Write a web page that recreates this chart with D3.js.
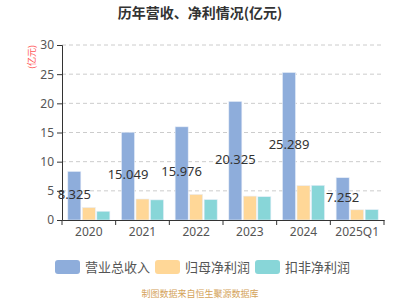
<!DOCTYPE html>
<html>
<head>
<meta charset="utf-8">
<script src="https://cdn.jsdelivr.net/npm/d3@7"></script>
<style>
  body { margin: 0; background: #fff; }
  svg { font-family: "Noto Sans CJK SC", "Noto Sans", sans-serif; }
</style>
</head>
<body>
<div id="chart"></div>
<script>
// data
const years = ["2020", "2021", "2022", "2023", "2024", "2025Q1"];
const revenue = [8.325, 15.049, 15.976, 20.325, 25.289, 7.252];
const netProfit = [2.15, 3.6, 4.4, 4.1, 5.9, 1.75];
const deductedProfit = [1.5, 3.45, 3.5, 4.0, 5.95, 1.78];
const seriesNames = ["营业总收入", "归母净利润", "扣非净利润"];
const colors = ["#8eaddb", "#ffd797", "#88d6d8"];
const yTicks = [0, 5, 10, 15, 20, 25, 30];

const width = 400, height = 300;
const margin = {top: 45, right: 16, bottom: 80, left: 62};

const svg = d3.select("#chart").append("svg")
    .attr("width", width)
    .attr("height", height);

const x = d3.scaleBand()
    .domain(years)
    .range([margin.left, width - margin.right]);

const x1 = d3.scaleBand()
    .domain([0, 1, 2])
    .range([0, x.bandwidth()])
    .paddingInner(0.1)
    .paddingOuter(0.4);

const y = d3.scaleLinear()
    .domain([0, 30])
    .range([height - margin.bottom, margin.top]);

// title
svg.append("text")
    .attr("x", 200).attr("y", 18)
    .attr("text-anchor", "middle")
    .attr("font-size", 14).attr("font-weight", "bold")
    .attr("fill", "#333")
    .text("历年营收、净利情况(亿元)");

// unit label
svg.append("text")
    .attr("transform", `translate(35, ${margin.top}) rotate(-90)`)
    .attr("text-anchor", "end")
    .attr("font-size", 9)
    .attr("fill", "#f55")
    .text("(亿元)");

// grid lines
svg.append("g")
    .selectAll("line")
    .data(yTicks.slice(1))
    .enter().append("line")
    .attr("x1", margin.left).attr("x2", width - margin.right)
    .attr("y1", d => y(d)).attr("y2", d => y(d))
    .attr("stroke", "#ccc")
    .attr("stroke-dasharray", "4,3");

// y axis
const yAxis = svg.append("g")
    .attr("transform", `translate(${margin.left},0)`)
    .call(d3.axisLeft(y).tickValues(yTicks).tickSize(5).tickPadding(3));
yAxis.select(".domain").attr("stroke", "#333");
yAxis.selectAll(".tick line").attr("stroke", "#333");
yAxis.selectAll("text").attr("font-size", 12).attr("fill", "#555")
    .attr("font-family", "Noto Sans, sans-serif");

// bars
const series = [revenue, netProfit, deductedProfit];
series.forEach((vals, si) => {
    svg.append("g")
        .selectAll("rect")
        .data(vals)
        .enter().append("rect")
        .attr("x", (d, i) => x(years[i]) + x1(si))
        .attr("width", x1.bandwidth())
        .attr("y", d => y(d))
        .attr("height", d => y(0) - y(d))
        .attr("fill", colors[si])
        .attr("stroke", "#e8eef8")
        .attr("stroke-width", 0.6);
});

// x axis
const xAxis = svg.append("g")
    .attr("transform", `translate(0,${y(0)})`)
    .call(d3.axisBottom(x).tickSize(0).tickPadding(7));
xAxis.select(".domain").attr("stroke", "#333");
xAxis.selectAll("text").attr("font-size", 12).attr("fill", "#555")
    .attr("font-family", "Noto Sans, sans-serif");
// boundary ticks
svg.append("g")
    .selectAll("line")
    .data(years.concat(["end"]))
    .enter().append("line")
    .attr("x1", (d, i) => i < years.length ? x(d) : x.range()[1])
    .attr("x2", (d, i) => i < years.length ? x(d) : x.range()[1])
    .attr("y1", y(0)).attr("y2", y(0) + 5)
    .attr("stroke", "#333");

// value labels for revenue
svg.append("g")
    .selectAll("text")
    .data(revenue)
    .enter().append("text")
    .attr("x", (d, i) => x(years[i]) + x1(0) + x1.bandwidth() / 2)
    .attr("y", d => y(d / 2) + 3)
    .attr("text-anchor", "middle")
    .attr("font-size", 13)
    .attr("fill", "#333")
    .attr("font-family", "Noto Sans, sans-serif")
    .text(d => d.toFixed(3));

// legend
const legendX = [55, 155, 255];
const legend = svg.append("g");
seriesNames.forEach((name, i) => {
    legend.append("rect")
        .attr("x", legendX[i]).attr("y", 260)
        .attr("width", 25).attr("height", 14)
        .attr("rx", 3)
        .attr("fill", colors[i]);
    legend.append("text")
        .attr("x", legendX[i] + 30).attr("y", 271.5)
        .attr("font-size", 13)
        .attr("fill", "#555")
        .text(name);
});

// source note
svg.append("text")
    .attr("x", 200).attr("y", 297)
    .attr("text-anchor", "middle")
    .attr("font-size", 9)
    .attr("fill", "#d4a35a")
    .text("制图数据来自恒生聚源数据库");
</script>
</body>
</html>
